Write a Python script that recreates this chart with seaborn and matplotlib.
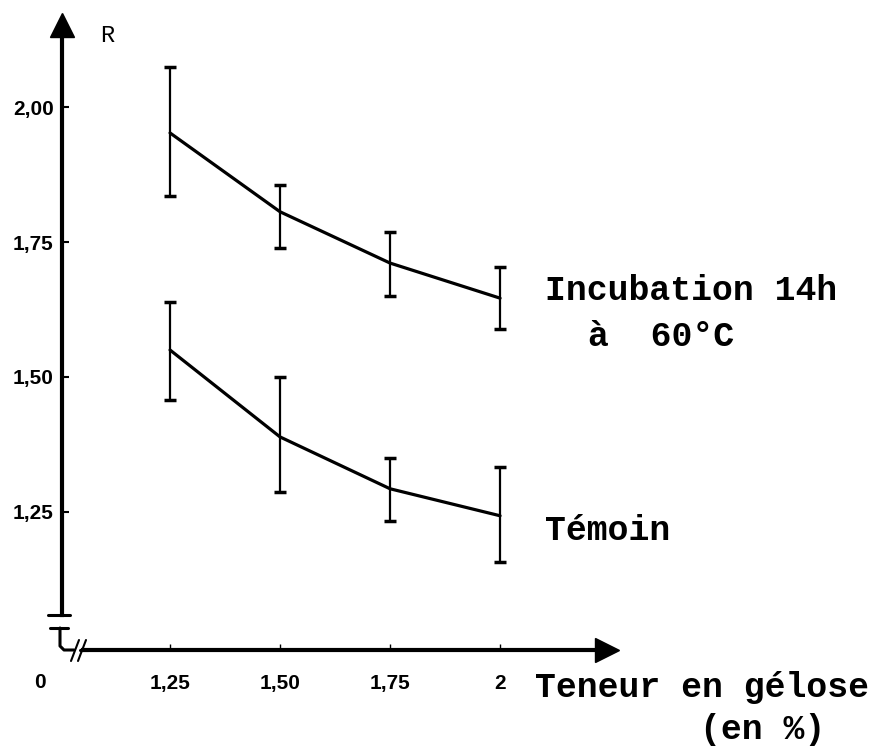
import matplotlib
matplotlib.use('Agg')
import matplotlib.pyplot as plt
import seaborn as sns
import pandas as pd
import numpy as np

# values
teneur = [1.25, 1.50, 1.75, 2.00]
incub_mean = [1.952, 1.806, 1.711, 1.646]
incub_low = [1.835, 1.739, 1.650, 1.589]
incub_high = [2.074, 1.856, 1.769, 1.704]
temoin_mean = [1.550, 1.389, 1.293, 1.243]
temoin_low = [1.457, 1.287, 1.233, 1.157]
temoin_high = [1.639, 1.500, 1.350, 1.333]

y_ticks = [1.25, 1.50, 1.75, 2.00]
y_ticklabels = ['1,25', '1,50', '1,75', '2,00']
x_ticks = [1.25, 1.50, 1.75, 2.00]
x_ticklabels = ['1,25', '1,50', '1,75', '2']

sns.set_style('white')
plt.rcParams['font.family'] = ['DejaVu Sans']

W, H = 891, 748
fig = plt.figure(figsize=(W / 100, H / 100), dpi=100)
# axes box in pixels: left 62, right 607, bottom 650, top 25
ax = fig.add_axes([62 / W, (H - 650) / H, 545 / W, 625 / H])

df = pd.DataFrame({
    'teneur': teneur * 2,
    'R': incub_mean + temoin_mean,
    'serie': ['Incubation'] * 4 + ['Temoin'] * 4,
})
sns.lineplot(data=df, x='teneur', y='R', hue='serie', palette=['black', 'black'],
             estimator=None, linewidth=2.3, legend=False, ax=ax)

for m, lo, hi in [(incub_mean, incub_low, incub_high), (temoin_mean, temoin_low, temoin_high)]:
    m = np.array(m)
    ax.errorbar(teneur, m, yerr=[m - np.array(lo), np.array(hi) - m], fmt='none',
                ecolor='black', elinewidth=1.6, capsize=4, capthick=2.5)

ax.set_xlim(1.0045, 2.243)
ax.set_ylim(0.9944, 2.1519)

for s in ['top', 'right']:
    ax.spines[s].set_visible(False)
for s in ['left', 'bottom']:
    ax.spines[s].set_linewidth(3)
    ax.spines[s].set_color('black')
ax.spines['left'].set_bounds(1.059, 2.1519)
ax.spines['bottom'].set_bounds(1.052, 2.243)

tick_font = dict(family=['Liberation Sans', 'DejaVu Sans'], weight='bold', size=15, color='black')
ax.set_yticks(y_ticks)
ax.set_yticklabels(y_ticklabels, fontdict=tick_font)
ax.set_xticks(x_ticks)
ax.set_xticklabels(x_ticklabels, fontdict=tick_font)
ax.tick_params(axis='y', direction='in', length=5, width=1.5, left=True, pad=6, colors='black')
ax.tick_params(axis='x', direction='in', length=4, width=1, bottom=True, pad=17, colors='black')
ax.set_xlabel('')
ax.set_ylabel('')

# arrow heads
ax.plot([0], [1], marker='^', ms=17, color='black', transform=ax.transAxes, clip_on=False)
ax.plot([1], [0], marker='>', ms=17, color='black', transform=ax.transAxes, clip_on=False)


def fx(px):
    return (px - 62) / 545


def fy(py):
    return (650 - py) / 625


# axis break marks
brk = dict(color='black', lw=2.2, transform=ax.transAxes, clip_on=False)
ax.plot([fx(48), fx(70)], [fy(615), fy(615)], **brk)
ax.plot([fx(50), fx(68)], [fy(628), fy(628)], **brk)
ax.plot([fx(60), fx(60), fx(64), fx(74)], [fy(628), fy(646), fy(650), fy(650)], **brk)
ax.plot([fx(71), fx(79)], [fy(661), fy(640)], color='black', lw=1.5,
        transform=ax.transAxes, clip_on=False)
ax.plot([fx(78), fx(86)], [fy(661), fy(640)], color='black', lw=1.5,
        transform=ax.transAxes, clip_on=False)
ax.plot([fx(80), fx(88)], [fy(650), fy(650)], **brk)

mono = dict(family=['Liberation Mono', 'DejaVu Sans Mono'], weight='bold', color='black')


def ftext(px, py, s, size, ha='left', **kw):
    fig.text(px / W, 1 - py / H, s, fontsize=size, ha=ha, va='center', **kw)


ftext(40, 683, '0', 15, ha='center', family=['Liberation Sans', 'DejaVu Sans'], weight='bold', color='black')
ftext(100, 36, 'R', 17, family=['Liberation Mono', 'DejaVu Sans Mono'], color='black')
ftext(545, 290, 'Incubation 14h', 25, **mono)
ftext(588, 336, 'à  60°C', 25, **mono)
ftext(545, 531, 'Témoin', 25, **mono)
ftext(535, 687, 'Teneur en gélose', 25, **mono)
ftext(700, 729, '(en %)', 25, **mono)

fig.savefig('out.png', dpi=100)
